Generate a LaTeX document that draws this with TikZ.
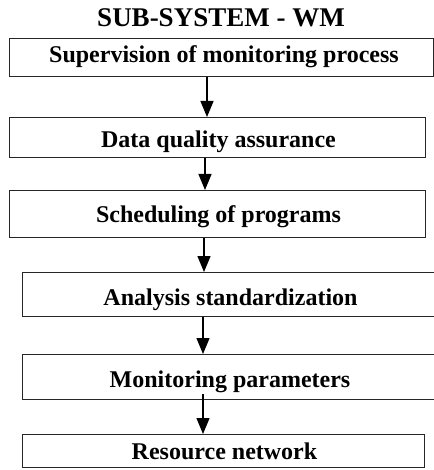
\documentclass[tikz,border=0pt]{standalone}
\usepackage{fontspec}
\setmainfont{Liberation Serif}
\usetikzlibrary{arrows.meta}
\begin{document}
\begin{tikzpicture}[x=1pt,y=1pt,
  box/.style={draw=black!85, line width=1.3pt, anchor=north west, inner sep=0pt},
  lbl/.style={inner sep=0pt, anchor=base, font=\fontsize{24}{28}\selectfont\bfseries},
  arr/.style={draw=black, line width=1.3pt, -{Triangle[length=16pt,width=13pt]}},
  ttl/.style={inner sep=0pt, anchor=base, font=\fontsize{27}{31}\selectfont\bfseries}]
\useasboundingbox (0,0) rectangle (433,-470);
\node[ttl] (title) at (221,-27) {SUB-SYSTEM - WM};
\node[box, minimum width=424pt, minimum height=38pt] (b1) at (9,-38) {};
\node[lbl] (t1) at (224,-63) {Supervision of monitoring process};
\node[box, minimum width=416pt, minimum height=40pt] (b2) at (9,-117) {};
\node[lbl] (t2) at (218.5,-148) {Data quality assurance};
\node[box, minimum width=416pt, minimum height=47pt] (b3) at (9,-190) {};
\node[lbl] (t3) at (218.5,-222) {Scheduling of programs};
\node[box, minimum width=412pt, minimum height=44pt] (b4) at (22,-272) {};
\node[lbl] (t4) at (230.5,-305) {Analysis standardization};
\node[box, minimum width=412pt, minimum height=45pt] (b5) at (22,-354) {};
\node[lbl] (t5) at (230,-387) {Monitoring parameters};
\node[box, minimum width=402pt, minimum height=33pt] (b6) at (22,-434) {};
\node[lbl] (t6) at (224.5,-459) {Resource network};
\coordinate (x1) at (207,0);
\coordinate (x2) at (205,0);
\coordinate (x3) at (204,0);
\coordinate (x4) at (203,0);
\coordinate (x5) at (203,0);
\draw[arr] (x1 |- b1.south) -- (x1 |- b2.north);
\draw[arr] (x2 |- b2.south) -- (x2 |- b3.north);
\draw[arr] (x3 |- b3.south) -- (x3 |- b4.north);
\draw[arr] (x4 |- b4.south) -- (x4 |- b5.north);
\draw[arr] ([yshift=6pt]x5 |- b5.south) -- (x5 |- b6.north);
\end{tikzpicture}
\end{document}
